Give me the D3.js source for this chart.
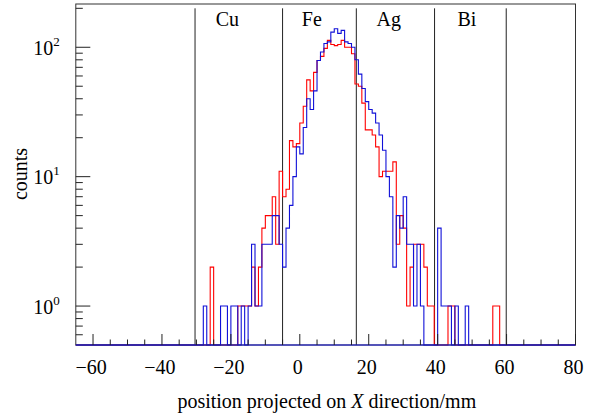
<!DOCTYPE html>
<html>
<head>
<meta charset="utf-8">
<script src="https://cdn.jsdelivr.net/npm/d3@7"></script>
<style>
  body { margin: 0; background: #fff; }
  text { font-family: "Liberation Serif", "Times New Roman", serif; }
</style>
</head>
<body>
<div class="chart"></div>
<script>
// histogram bins are 1 mm wide, counts start at binStart
const binStart = -30;
const redCounts = [
  0, 0, 0, 0, 2, 0, 0, 0, 0, 0,          // -30 .. -21
  0, 0, 1, 1, 1, 1, 2, 1, 2, 4,          // -20 .. -11
  5, 5, 7, 3, 11, 7, 8, 19, 17, 18,      // -10 .. -1
  26, 35, 56, 46, 64, 79, 85, 98, 113, 105, // 0 .. 9
  103, 105, 113, 100, 100, 89, 52, 50, 37, 23, // 10 .. 19
  23, 21, 17, 10, 11, 11, 11, 13, 3, 5,  // 20 .. 29
  4, 1, 2, 3, 3, 3, 2, 1, 1, 0,          // 30 .. 39
  0, 0, 0, 1, 1, 0, 0, 0, 0, 0,          // 40 .. 49
  0, 0, 0, 0, 0, 0, 1, 1, 0, 0           // 50 .. 59
];
const blueCounts = [
  0, 0, 1, 0, 0, 0, 0, 1, 1, 0,          // -30 .. -21
  1, 1, 0, 1, 0, 1, 3, 1, 1, 3,          // -20 .. -11
  3, 3, 5, 5, 3, 2, 4, 6, 10, 17,        // -10 .. -1
  15, 24, 40, 33, 46, 79, 92, 107, 110, 131, // 0 .. 9
  139, 128, 135, 110, 107, 100, 80, 62, 48, 38, // 10 .. 19
  33, 31, 26, 21, 16, 10, 7, 2, 5, 4,    // 20 .. 29
  7, 3, 3, 1, 3, 1, 0, 0, 0, 0,          // 30 .. 39
  4, 1, 1, 1, 0, 1, 0, 0, 1, 0,          // 40 .. 49
  0, 0, 0, 0, 0, 0, 0, 0, 0, 0           // 50 .. 59
];
const boundaries = [-30.4, -5, 16.4, 39.1, 59.9];
const boundaryTop = 200;
const materials = ["Cu", "Fe", "Ag", "Bi"];
const materialX = [-21, 3.5, 25.8, 48.5];
const xTicks = [-60, -40, -20, 0, 20, 40, 60, 80];
const yTicks = [1, 10, 100];
const yExponents = ["0", "1", "2"];

const margin = {top: 4, right: 16.5, bottom: 70, left: 75.8};
const w = 592 - margin.left - margin.right,
      h = 415 - margin.top - margin.bottom;

const svg = d3.select(".chart")
  .append("svg")
  .attr("width", 592)
  .attr("height", 415)
  .append("g")
  .attr("transform", `translate(${margin.left},${margin.top})`);

const xScale = d3.scaleLinear().domain([-65, 80]).range([0, w]);
const yScale = d3.scaleLog().domain([0.5, 216]).range([h, 0]);

// full histogram over the frame range, zero outside the data
function fullHist(counts) {
  const pts = [];
  for (let e = -65; e < 80; e++) {
    const i = e - binStart;
    const c = (i >= 0 && i < counts.length) ? counts[i] : 0;
    pts.push([e, c]);
  }
  pts.push([80, pts[pts.length - 1][1]]);
  return pts;
}
const yPos = c => c > 0.5 ? yScale(c) : h;

const line = d3.line()
  .curve(d3.curveStepAfter)
  .x(d => xScale(d[0]))
  .y(d => yPos(d[1]));

// boundary lines
svg.selectAll(".boundary")
  .data(boundaries)
  .enter()
  .append("line")
  .attr("x1", d => xScale(d)).attr("x2", d => xScale(d))
  .attr("y1", yScale(boundaryTop)).attr("y2", h)
  .attr("stroke", "#222")
  .attr("stroke-width", 1);

svg.append("path")
  .datum(fullHist(redCounts))
  .attr("fill", "none")
  .attr("stroke", "#ff0000")
  .attr("stroke-width", 1.1)
  .attr("d", line);

svg.append("path")
  .datum(fullHist(blueCounts))
  .attr("fill", "none")
  .attr("stroke", "#1010d8")
  .attr("stroke-width", 1.1)
  .attr("d", line);

// frame
svg.append("rect")
  .attr("x", 0).attr("y", 0)
  .attr("width", w).attr("height", h)
  .attr("fill", "none")
  .attr("stroke", "#333")
  .attr("stroke-width", 1);
// bottom edge is covered by the blue zero line
svg.append("line")
  .attr("x1", 0).attr("x2", w).attr("y1", h).attr("y2", h)
  .attr("stroke", "#1010d8").attr("stroke-width", 1.1);

// x axis: ticks inside
const xMinor = d3.range(-60, 81, 5);
svg.selectAll(".xminor")
  .data(xMinor)
  .enter()
  .append("line")
  .attr("x1", d => xScale(d)).attr("x2", d => xScale(d))
  .attr("y1", h).attr("y2", d => xTicks.includes(d) ? h - 11 : h - 5.5)
  .attr("stroke", "#222");

svg.selectAll(".xlabel")
  .data(xTicks)
  .enter()
  .append("text")
  .attr("x", d => xScale(d) - 2)
  .attr("y", h + 29)
  .attr("text-anchor", "middle")
  .attr("font-size", 20)
  .text(d => d < 0 ? "\u2212" + Math.abs(d) : d);

// y axis: log ticks inside
const yMinor = [0.6, 0.7, 0.8, 0.9];
for (let k = 1; k <= 100; k *= 10) {
  for (let m = 2; m <= 9; m++) if (k * m < 216) yMinor.push(k * m);
}
svg.selectAll(".yminor")
  .data(yMinor)
  .enter()
  .append("line")
  .attr("x1", 0).attr("x2", 7)
  .attr("y1", d => yScale(d)).attr("y2", d => yScale(d))
  .attr("stroke", "#222");

svg.selectAll(".ymajor")
  .data(yTicks)
  .enter()
  .append("line")
  .attr("x1", 0).attr("x2", 14.5)
  .attr("y1", d => yScale(d)).attr("y2", d => yScale(d))
  .attr("stroke", "#222");

const yLab = svg.selectAll(".ylabel")
  .data(yTicks)
  .enter()
  .append("text")
  .attr("x", -16)
  .attr("y", d => yScale(d) + 7.5)
  .attr("text-anchor", "end")
  .attr("font-size", 20);
yLab.append("tspan").text("10");
yLab.append("tspan")
  .attr("dy", -9)
  .attr("font-size", 13)
  .text((d, i) => yExponents[i]);

// material labels
svg.selectAll(".material")
  .data(materials)
  .enter()
  .append("text")
  .attr("x", (d, i) => xScale(materialX[i]))
  .attr("y", 22)
  .attr("text-anchor", "middle")
  .attr("font-size", 20)
  .text(d => d);

// axis titles
const xt = svg.append("text")
  .attr("x", 251)
  .attr("y", h + 63)
  .attr("text-anchor", "middle")
  .attr("font-size", 20);
xt.append("tspan").text("position projected on ");
xt.append("tspan").attr("font-style", "italic").text("X");
xt.append("tspan").text(" direction/mm");

svg.append("text")
  .attr("transform", `translate(${-49},${170}) rotate(-90)`)
  .attr("text-anchor", "middle")
  .attr("font-size", 20)
  .text("counts");
</script>
</body>
</html>
